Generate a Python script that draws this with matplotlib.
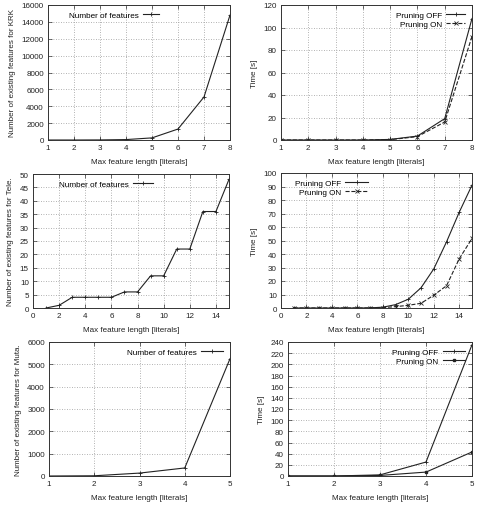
import matplotlib
matplotlib.use("Agg")
import matplotlib.pyplot as plt

plt.rcParams['font.family'] = ['Liberation Sans', 'DejaVu Sans']
plt.rcParams['font.size'] = 5.8

# KRK
krk_x = [1, 2, 3, 4, 5, 6, 7, 8]
krk_features = [0, 0, 10, 50, 250, 1300, 5100, 14800]
krk_off = [0, 0, 0, 0, 0.5, 3.5, 19, 108]
krk_on = [0, 0, 0, 0, 0.3, 3, 16, 92]

# Tele
tele_x = list(range(1, 16))
tele_features = [0, 1, 4, 4, 4, 4, 6, 6, 12, 12, 22, 22, 36, 36, 48]
tele_off = [0, 0, 0, 0, 0, 0, 0.1, 0.6, 2.5, 6.5, 15, 29, 49, 71, 91]
tele_on = [0, 0, 0, 0, 0, 0, 0, 0.3, 1, 2, 3.5, 9.5, 16.5, 36.5, 51.5]

# Muta
muta_x = [1, 2, 3, 4, 5]
muta_features = [0, 10, 130, 360, 5250]
muta_off = [0, 0, 2, 25, 235]
muta_on = [0, 0, 1, 7, 43]

W, H = 484, 506
fig = plt.figure(figsize=(W / 100, H / 100), dpi=100)


def add_ax(l, r, t, b):
    return fig.add_axes([l / W, 1 - b / H, (r - l) / W, (b - t) / H])


def style(ax, xlim, ylim, xticks, yticks, ylabel):
    ax.set_xlim(*xlim)
    ax.set_ylim(*ylim)
    ax.set_xticks(xticks)
    ax.set_yticks(yticks)
    ax.grid(True, color='#999999', linestyle=(0, (1, 2)), linewidth=0.6)
    ax.tick_params(direction='in', top=True, right=True, length=3, width=0.5, pad=3,
                   colors='#333333', labelcolor='#222222')
    for s in ax.spines.values():
        s.set_linewidth(0.7)
        s.set_color('#333333')
    ax.set_xlabel('Max feature length [literals]', labelpad=5, color='#222222')
    ax.set_ylabel(ylabel, labelpad=4, color='#222222')


def legend(ax, loc, anchor=None, hl=2.4):
    leg = ax.legend(loc=loc, bbox_to_anchor=anchor, frameon=False, markerfirst=False,
                    handlelength=hl, borderaxespad=0.4, labelspacing=0.15,
                    handletextpad=0.5, fontsize=5.9)
    return leg


lw = 0.8
col = '#222222'

# row 1
ax = add_ax(48, 230, 6, 141)
ax.plot(krk_x, krk_features, color=col, lw=lw, marker='+', ms=3.5, mew=0.6,
        label='Number of features')
style(ax, (1, 8), (0, 16000), krk_x, range(0, 16001, 2000),
      'Number of existing features for KRK')
legend(ax, 'upper left', (0.08, 1.0), hl=2.0)

ax = add_ax(281, 472, 6, 141)
ax.plot(krk_x, krk_off, color=col, lw=lw, marker='+', ms=3.5, mew=0.6, label='Pruning OFF')
ax.plot(krk_x, krk_on, color=col, lw=lw, ls='--', marker='x', ms=3, mew=0.6,
        label='Pruning ON')
style(ax, (1, 8), (0, 120), krk_x, range(0, 121, 20), 'Time [s]')
legend(ax, 'upper right')

# row 2
ax = add_ax(33, 229, 175, 309)
ax.plot(tele_x, tele_features, color=col, lw=lw, marker='+', ms=3.5, mew=0.6,
        label='Number of features')
style(ax, (0, 15), (0, 50), range(0, 15, 2), range(0, 51, 5),
      'Number of existing features for Tele.')
legend(ax, 'upper left', (0.1, 1.0))

ax = add_ax(281, 472, 174, 309)
ax.plot(tele_x, tele_off, color=col, lw=lw, marker='+', ms=3.5, mew=0.6, label='Pruning OFF')
ax.plot(tele_x, tele_on, color=col, lw=lw, ls='--', marker='x', ms=3, mew=0.6,
        label='Pruning ON')
style(ax, (0, 15), (0, 100), range(0, 15, 2), range(0, 101, 10), 'Time [s]')
legend(ax, 'upper left', (0.04, 1.0), hl=2.8)

# row 3
ax = add_ax(49, 230, 343, 477)
ax.plot(muta_x, muta_features, color=col, lw=lw, marker='+', ms=3.5, mew=0.6,
        label='Number of features')
style(ax, (1, 5), (0, 6000), muta_x, range(0, 6001, 1000),
      'Number of existing features for Muta.')
legend(ax, 'upper right', hl=2.8)

ax = add_ax(288, 472, 343, 477)
ax.plot(muta_x, muta_off, color=col, lw=lw, marker='+', ms=3.5, mew=0.6, label='Pruning OFF')
ax.plot(muta_x, muta_on, color=col, lw=lw, marker='s', ms=1.6, label='Pruning ON')
style(ax, (1, 5), (0, 240), muta_x, range(0, 241, 20), 'Time [s]')
legend(ax, 'upper right', hl=2.8)

fig.savefig('out.png', dpi=100)
